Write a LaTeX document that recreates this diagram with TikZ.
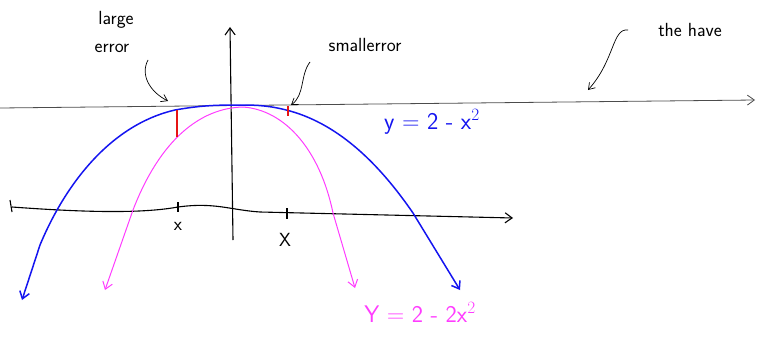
\documentclass[tikz,border=0pt]{standalone}
\usetikzlibrary{arrows.meta}
\definecolor{pblue}{RGB}{20,20,240}
\definecolor{pmag}{RGB}{255,60,255}
\definecolor{pred}{RGB}{230,20,20}
\begin{document}
\begin{tikzpicture}[x=1pt,y=-1pt,
  barb/.style={-{Straight Barb[length=7pt,width=10pt]}},
  axis/.style={black,line width=1.1pt},
  hand/.style={font=\sffamily\fontsize{19}{21}\selectfont},
  eq/.style={font=\sffamily\fontsize{24}{26}\selectfont},
  note/.style={black,line width=0.7pt,-{Straight Barb[length=6pt,width=8pt]}}]
\useasboundingbox (0,0) rectangle (759,337);
% tangent line
\coordinate (tl) at (0,108);
\coordinate (tr) at (755,100);
\draw[gray!60!black,line width=0.8pt,barb] (tl) -- (tr);
% x-axis
\coordinate (xl) at (12,207);
\coordinate (xr) at (513,218);
\draw[axis,barb] (xl) .. controls (80,212) and (140,214) .. (178,207) .. controls (215,202) and (230,210) .. (260,212) -- (xr);
\draw[axis] (10,200) -- (12,212);
% y-axis
\coordinate (yb) at (233,240);
\coordinate (yt) at (230,27);
\draw[axis,barb] (yb) -- (yt);
% ticks
\draw[axis] (178,202) -- (178,212);
\draw[black,line width=2pt] (287,208) -- (287,219);
\node[hand] (xa) at (178,226) {x};
\node[hand] (xb) at (285,240) {X};
% blue parabola
\draw[pblue,line width=1.5pt,barb] (240,105) to[out=180,in=10] (175,110)
  .. controls (110,125) and (65,185) .. (40,245) -- (22,300);
\draw[pblue,line width=1.5pt,barb] (240,105) to[out=0,in=165] (290,111)
  .. controls (340,125) and (380,165) .. (413,213) -- (460,290);
% magenta parabola
\draw[pmag,line width=1pt,barb] (243,107) .. controls (200,108) and (160,140) .. (133,210) -- (105,290);
\draw[pmag,line width=1pt,barb] (243,107) .. controls (285,110) and (320,150) .. (333,213) -- (355,288);
% red error marks
\draw[pred,line width=1.3pt] (177,110) -- (177,137);
\draw[pred,line width=1.3pt] (288,106) -- (288,116);
% labels
\node[hand] (large) at (116,20) {large};
\node[hand] (err) at (112,48) {error};
\coordinate (le) at (168,101);
\draw[note] (148,60) .. controls (140,75) and (150,92) .. (le);
\node[hand] (small) at (365,45) {smallerror};
\coordinate (se) at (291,105);
\draw[note] (310,62) .. controls (300,75) and (305,95) .. (se);
\node[hand] (have) at (690,30) {the have};
\coordinate (he) at (588,90);
\draw[note] (628,30) .. controls (612,28) and (615,60) .. (he);
\node[eq,text=pblue] (yb1) at (432,122) {y = 2 - x$^2$};
\node[eq,text=pmag] (ym1) at (420,312) {Y = 2 - 2x$^2$};
\end{tikzpicture}
\end{document}
